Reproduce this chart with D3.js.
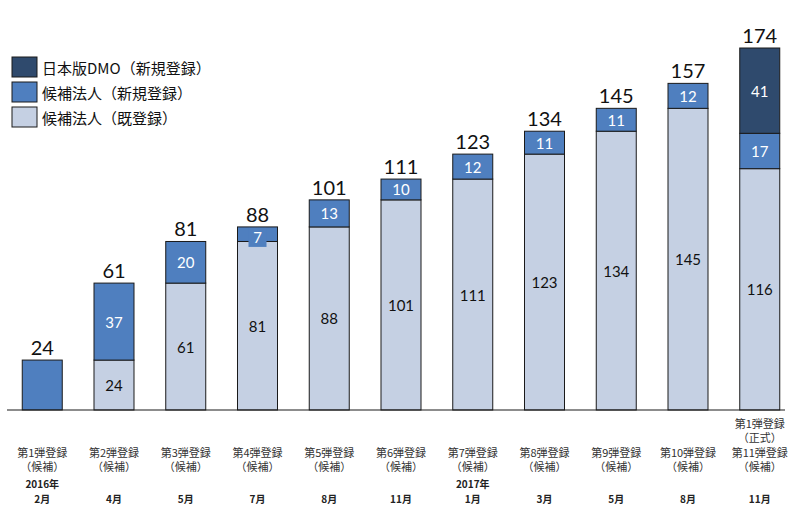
<!DOCTYPE html>
<html>
<head>
<meta charset="utf-8">
<script src="https://cdn.jsdelivr.net/npm/d3@7"></script>
<style>
  body { margin: 0; background: #fff; }
  svg { display: block; }
</style>
</head>
<body>
<div class="canva"></div>
<script>
// categories (x axis) — each is a list of text lines
const categories = [
  ["第1弾登録", "（候補）"],
  ["第2弾登録", "（候補）"],
  ["第3弾登録", "（候補）"],
  ["第4弾登録", "（候補）"],
  ["第5弾登録", "（候補）"],
  ["第6弾登録", "（候補）"],
  ["第7弾登録", "（候補）"],
  ["第8弾登録", "（候補）"],
  ["第9弾登録", "（候補）"],
  ["第10弾登録", "（候補）"],
  ["第1弾登録", "（正式）", "第11弾登録", "（候補）"]
];
const years = ["2016年", "", "", "", "", "", "2017年", "", "", "", ""];
const months = ["2月", "4月", "5月", "7月", "8月", "11月", "1月", "3月", "5月", "8月", "11月"];

// series
const seriesNames = ["候補法人（既登録）", "候補法人（新規登録）", "日本版DMO（新規登録）"];
const existing = [0, 24, 61, 81, 88, 101, 111, 123, 134, 145, 116];
const newCand  = [24, 37, 20, 7, 13, 10, 12, 11, 11, 12, 17];
const dmo      = [0, 0, 0, 0, 0, 0, 0, 0, 0, 0, 41];

const colors = ["#c5d0e3", "#4f7fbf", "#2f4a6d"];
const labelColors = ["#111", "#fff", "#fff"];

const width = 800, height = 513;
const baseY = 410;

const svg = d3.select(".canva").append("svg")
    .attr("width", width)
    .attr("height", height);

const rows = categories.map((c, i) => ({i: i, existing: existing[i], newCand: newCand[i], dmo: dmo[i]}));
const keys = ["existing", "newCand", "dmo"];
const stacked = d3.stack().keys(keys)(rows);

const x = d3.scaleBand()
    .domain(d3.range(categories.length))
    .range([7, 795])
    .paddingInner(0.4425)
    .paddingOuter(0.2125);

const totals = rows.map(r => r.existing + r.newCand + r.dmo);

const y = d3.scaleLinear()
    .domain([0, d3.max(totals)])
    .range([baseY, 48]);

// bars
const layers = svg.selectAll("g.layer")
    .data(stacked)
    .enter().append("g")
    .attr("class", "layer");

layers.each(function(layer, k) {
  const g = d3.select(this);
  const segs = layer.filter(d => d[1] - d[0] > 0);
  g.selectAll("rect")
    .data(segs)
    .enter().append("rect")
    .attr("x", d => x(d.data.i))
    .attr("y", d => y(d[1]))
    .attr("width", x.bandwidth())
    .attr("height", d => y(d[0]) - y(d[1]))
    .attr("fill", colors[k])
    .attr("stroke", "#1a1a1a")
    .attr("stroke-width", 1);
});

// segment labels (skip first bar, which only has a total)
layers.each(function(layer, k) {
  const g = d3.select(this);
  const segs = layer.filter(d => d[1] - d[0] > 0 && d.data.i > 0);
  segs.forEach(d => {
    const cx = x(d.data.i) + x.bandwidth() / 2;
    const h = y(d[0]) - y(d[1]);
    const cy = (y(d[0]) + y(d[1])) / 2;
    if (h < 20) {
      // small segment: label box spills below
      g.append("rect")
        .attr("x", cx - 9)
        .attr("y", y(d[1]) + 1)
        .attr("width", 18)
        .attr("height", 19)
        .attr("fill", colors[k]);
    }
    g.append("text")
      .attr("x", cx)
      .attr("y", h < 20 ? y(d[1]) + 10 : cy)
      .attr("text-anchor", "middle")
      .attr("dominant-baseline", "central")
      .attr("font-family", "Lato, 'Open Sans', sans-serif")
      .attr("font-size", 15)
      .attr("fill", labelColors[k])
      .text(d[1] - d[0]);
  });
});

// totals on top
svg.selectAll("text.total")
  .data(totals)
  .enter().append("text")
  .attr("class", "total")
  .attr("x", (d, i) => x(i) + x.bandwidth() / 2)
  .attr("y", d => y(d) - 13)
  .attr("text-anchor", "middle")
  .attr("dominant-baseline", "central")
  .attr("font-family", "Lato, 'Open Sans', sans-serif")
  .attr("font-size", 20)
  .attr("fill", "#111")
  .text(d => d);

// baseline
svg.append("line")
  .attr("x1", 7).attr("x2", 785)
  .attr("y1", baseY).attr("y2", baseY)
  .attr("stroke", "#1a1a1a")
  .attr("stroke-width", 1.2);

// x labels
const font = "'Noto Sans CJK JP', sans-serif";
categories.forEach((lines, i) => {
  const cx = x(i) + x.bandwidth() / 2;
  const startY = 466 - (lines.length - 1) * 14.5;
  lines.forEach((t, j) => {
    svg.append("text")
      .attr("x", cx)
      .attr("y", startY + j * 14.5)
      .attr("text-anchor", "middle")
      .attr("dominant-baseline", "central")
      .attr("font-family", font)
      .attr("font-size", 11)
      .attr("fill", "#333")
      .text(t);
  });
  if (years[i]) {
    svg.append("text")
      .attr("x", cx)
      .attr("y", 483)
      .attr("text-anchor", "middle")
      .attr("dominant-baseline", "central")
      .attr("font-family", font)
      .attr("font-size", 10)
      .attr("font-weight", "bold")
      .attr("fill", "#222")
      .text(years[i]);
  }
  svg.append("text")
    .attr("x", cx)
    .attr("y", 498)
    .attr("text-anchor", "middle")
    .attr("dominant-baseline", "central")
    .attr("font-family", font)
    .attr("font-size", 10)
    .attr("font-weight", "bold")
    .attr("fill", "#222")
    .text(months[i]);
});

// legend (top-down: DMO, 新規, 既登録)
const legendOrder = [2, 1, 0];
const legend = svg.append("g").attr("transform", "translate(12,57)");
legendOrder.forEach((k, j) => {
  legend.append("rect")
    .attr("x", 0)
    .attr("y", j * 25)
    .attr("width", 25)
    .attr("height", 20)
    .attr("fill", colors[k])
    .attr("stroke", "#1a1a1a")
    .attr("stroke-width", 1);
  legend.append("text")
    .attr("x", 30)
    .attr("y", j * 25 + 10)
    .attr("dominant-baseline", "central")
    .attr("font-family", font)
    .attr("font-size", 15)
    .attr("fill", "#111")
    .text(seriesNames[k]);
});
</script>
</body>
</html>
